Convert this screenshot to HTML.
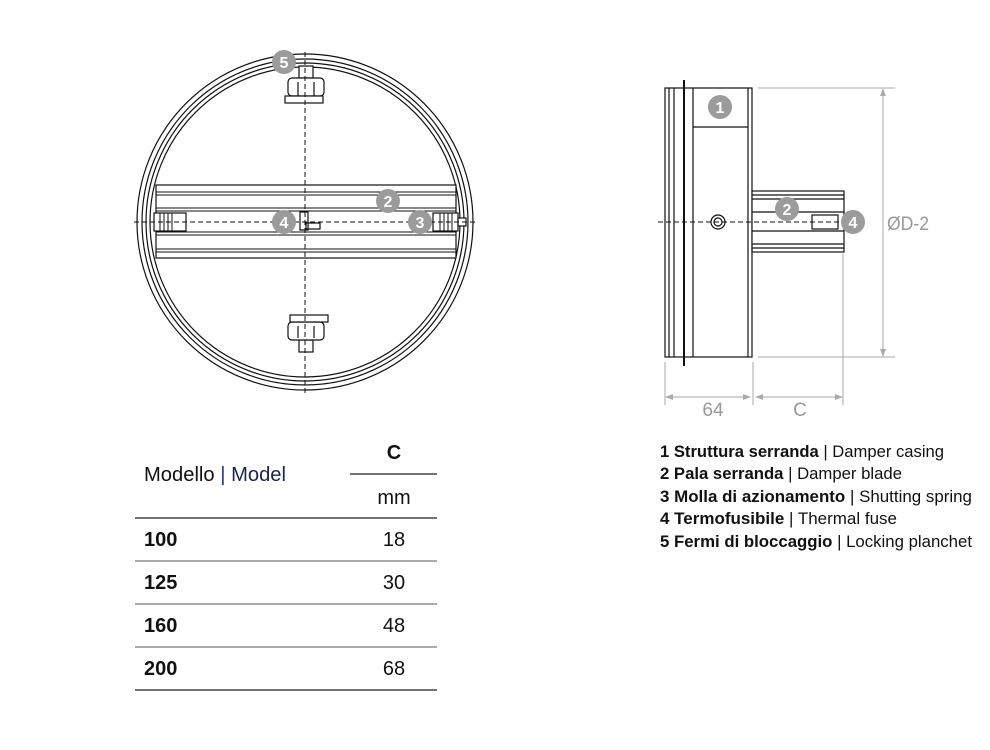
<!DOCTYPE html>
<html><head><meta charset="utf-8"><style>
html,body{margin:0;padding:0;background:#fff;}
svg{display:block;font-family:"Liberation Sans",sans-serif;}
</style></head><body>
<svg width="990" height="750" viewBox="0 0 990 750" xmlns="http://www.w3.org/2000/svg">
<defs>
<g id="badge"><circle r="12" fill="#9b9b9b"/></g>
</defs>
<!-- FRONT VIEW -->
<g fill="none" stroke="#111" stroke-width="1.2">
<circle cx="305" cy="222" r="168"/>
<circle cx="305" cy="222" r="163"/>
<circle cx="305" cy="222" r="159"/>
<circle cx="305" cy="222" r="155"/>
</g>
<!-- blade -->
<g fill="#fff" stroke="#111" stroke-width="1.2">
<rect x="156" y="185" width="300" height="73"/>
</g>
<g stroke="#111" stroke-width="1">
<line x1="156" y1="192" x2="456" y2="192"/>
<line x1="156" y1="195" x2="456" y2="195"/>
<line x1="156" y1="208" x2="456" y2="208"/>
<line x1="156" y1="211" x2="456" y2="211"/>
<line x1="156" y1="232" x2="456" y2="232"/>
<line x1="156" y1="235" x2="456" y2="235"/>
<line x1="156" y1="249" x2="456" y2="249"/>
<line x1="156" y1="252" x2="456" y2="252"/>
</g>
<!-- spring ends -->
<g fill="#fff" stroke="#111" stroke-width="1.2">
<rect x="154" y="213" width="32" height="18"/>
<rect x="433" y="213" width="25" height="18"/>
<rect x="458" y="218" width="8" height="8"/>
<path d="M300 212 h8 v18 h-8 z M306 223 h14 v6 h-14z"/>
</g>
<g stroke="#111" stroke-width="1">
<line x1="160" y1="213" x2="160" y2="231"/><line x1="164" y1="213" x2="164" y2="231"/><line x1="168" y1="213" x2="168" y2="231"/><line x1="172" y1="213" x2="172" y2="231"/>
<line x1="440" y1="213" x2="440" y2="231"/><line x1="444" y1="213" x2="444" y2="231"/><line x1="448" y1="213" x2="448" y2="231"/><line x1="452" y1="213" x2="452" y2="231"/>
</g>
<!-- top lock -->
<g fill="#fff" stroke="#111" stroke-width="1.2">
<rect x="299" y="66" width="14" height="12"/>
<rect x="288" y="78" width="36" height="18" rx="4"/>
<rect x="285" y="96" width="38" height="7"/>
<line x1="298" y1="82" x2="298" y2="96"/><line x1="314" y1="82" x2="314" y2="96"/>
<rect x="299" y="340" width="14" height="12"/>
<rect x="288" y="322" width="36" height="18" rx="4"/>
<rect x="289" y="341" width="0" height="0"/>
<rect x="290" y="315" width="38" height="7"/>
<line x1="298" y1="326" x2="298" y2="338"/><line x1="314" y1="326" x2="314" y2="338"/>
</g>
<g stroke="#111" stroke-width="1" stroke-dasharray="5,3">
<line x1="305" y1="52" x2="305" y2="394"/>
<line x1="134" y1="222" x2="476" y2="222"/>
</g>
<!-- badges front -->
<g font-weight="bold" font-size="16" fill="#fff" text-anchor="middle">
<circle cx="284" cy="62" r="12" fill="#9b9b9b"/><text x="284" y="68">5</text>
<circle cx="388" cy="201" r="12" fill="#9b9b9b"/><text x="388" y="207">2</text>
<circle cx="284" cy="222" r="12" fill="#9b9b9b"/><text x="284" y="228">4</text>
<circle cx="420" cy="222" r="12" fill="#9b9b9b"/><text x="420" y="228">3</text>
</g>

<!-- SIDE VIEW -->
<g fill="#fff" stroke="#111" stroke-width="1.2">
<rect x="665" y="88" width="87" height="269"/>
</g>
<g stroke="#111" stroke-width="1.2" fill="none">
<line x1="669" y1="88" x2="669" y2="357"/>
<line x1="674" y1="88" x2="674" y2="357"/>
<line x1="693" y1="88" x2="693" y2="357"/>
<line x1="684" y1="80" x2="684" y2="366" stroke-width="2"/>
<line x1="748" y1="88" x2="748" y2="357"/>
<line x1="693" y1="127" x2="748" y2="127"/>
<rect x="752" y="191" width="92" height="61" fill="#fff"/>
<line x1="752" y1="195" x2="844" y2="195"/>
<line x1="752" y1="199" x2="844" y2="199"/>
<line x1="752" y1="212" x2="844" y2="212"/>
<line x1="752" y1="231" x2="844" y2="231"/>
<line x1="752" y1="244" x2="844" y2="244"/>
<line x1="752" y1="248" x2="844" y2="248"/>
<rect x="812" y="215" width="26" height="14"/>
<circle cx="718" cy="222" r="7"/><circle cx="718" cy="222" r="4"/>
</g>
<line x1="658" y1="222" x2="840" y2="222" stroke="#111" stroke-dasharray="5,3"/>
<!-- dims -->
<g stroke="#aaa" stroke-width="1" fill="none">
<line x1="758" y1="88" x2="895" y2="88"/>
<line x1="758" y1="357" x2="895" y2="357"/>
<line x1="883" y1="90" x2="883" y2="355"/>
<line x1="665" y1="362" x2="665" y2="405"/>
<line x1="753" y1="362" x2="753" y2="405"/>
<line x1="843" y1="254" x2="843" y2="405"/>
<line x1="667" y1="397" x2="750" y2="397"/>
<line x1="756" y1="397" x2="841" y2="397"/>
</g>
<g fill="#aaa">
<path d="M883 88 l-3 8 h6z"/><path d="M883 357 l-3 -8 h6z"/>
<path d="M665 397 l8 -3 v6z"/><path d="M751 397 l-8 -3 v6z"/>
<path d="M755 397 l8 -3 v6z"/><path d="M843 397 l-8 -3 v6z"/>
</g>
<g fill="#999" font-size="19" text-anchor="middle">
<text x="713" y="416">64</text>
<text x="800" y="416">C</text>
<text x="908" y="230" textLength="42" lengthAdjust="spacingAndGlyphs">ØD-2</text>
</g>
<g font-weight="bold" font-size="16" fill="#fff" text-anchor="middle">
<circle cx="720" cy="107" r="12" fill="#9b9b9b"/><text x="720" y="113">1</text>
<circle cx="787" cy="209" r="12" fill="#9b9b9b"/><text x="787" y="215">2</text>
<circle cx="853" cy="222" r="12" fill="#9b9b9b"/><text x="853" y="228">4</text>
</g>

<!-- TABLE -->
<g font-size="20" fill="#111">
<text x="144" y="481" textLength="142" lengthAdjust="spacingAndGlyphs">Modello <tspan fill="#1f3a80">|</tspan><tspan fill="#1a2550"> Model</tspan></text>
<text x="394" y="459" text-anchor="middle" font-weight="bold">C</text>
<text x="394" y="504" text-anchor="middle">mm</text>
<g font-weight="bold">
<text x="144" y="546">100</text><text x="144" y="589">125</text><text x="144" y="632">160</text><text x="144" y="675">200</text>
</g>
<g text-anchor="middle">
<text x="394" y="546">18</text><text x="394" y="589">30</text><text x="394" y="632">48</text><text x="394" y="675">68</text>
</g>
</g>
<g stroke="#222" stroke-width="1.2">
<line x1="350" y1="474" x2="437" y2="474"/>
<line x1="135" y1="518" x2="437" y2="518"/>
<line x1="135" y1="561" x2="437" y2="561" stroke="#777"/>
<line x1="135" y1="604" x2="437" y2="604" stroke="#777"/>
<line x1="135" y1="647" x2="437" y2="647" stroke="#777"/>
<line x1="135" y1="690" x2="437" y2="690"/>
</g>

<!-- LEGEND -->
<g font-size="17" fill="#111">
<text x="660" y="457" textLength="284" lengthAdjust="spacingAndGlyphs"><tspan font-weight="bold">1 Struttura serranda</tspan> | Damper casing</text>
<text x="660" y="479" textLength="242" lengthAdjust="spacingAndGlyphs"><tspan font-weight="bold">2 Pala serranda</tspan> | Damper blade</text>
<text x="660" y="502" textLength="312" lengthAdjust="spacingAndGlyphs"><tspan font-weight="bold">3 Molla di azionamento</tspan> | Shutting spring</text>
<text x="660" y="524" textLength="237" lengthAdjust="spacingAndGlyphs"><tspan font-weight="bold">4 Termofusibile</tspan> | Thermal fuse</text>
<text x="660" y="547" textLength="312" lengthAdjust="spacingAndGlyphs"><tspan font-weight="bold">5 Fermi di bloccaggio</tspan> | Locking planchet</text>
</g>
</svg>
</body></html>
